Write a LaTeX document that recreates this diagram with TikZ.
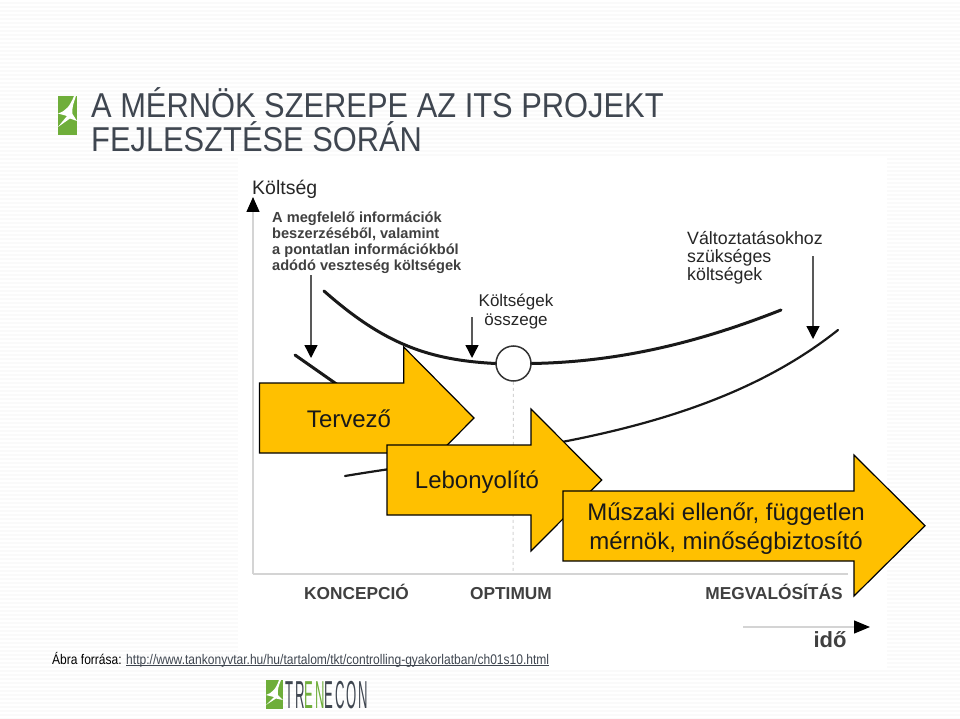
\documentclass[tikz,border=0pt]{standalone}
\usepackage{fontspec}
\setmainfont{Liberation Sans}
\usetikzlibrary{calc}
\usetikzlibrary{arrows.meta}
\definecolor{sarga}{HTML}{FFC000}
\definecolor{zold}{HTML}{6FAE3A}
\definecolor{szurke}{HTML}{3F4650}
\definecolor{tengely}{HTML}{D4D4D4}
\tikzstyle{nyil}   =[draw=black, line width=1.2pt, fill=sarga, line join=miter]
\tikzstyle{gorbe}  =[line width=3pt, line cap=round, black!90]
\tikzstyle{mutato} =[line width=1.4pt, black!65, -{Triangle[length=13pt,width=13pt,black]}]
\tikzstyle{tengelyvonal} =[line width=1.3pt, tengely]
\tikzstyle{felirat}=[align=left, anchor=north west, inner sep=0pt, font=\bfseries\fontsize{14.6}{16}\selectfont, black!75]
\tikzstyle{vekony} =[align=left, anchor=north west, inner sep=0pt, font=\fontsize{17.8}{18}\selectfont, black!85]
\tikzstyle{szakasz} =[anchor=base, inner sep=0pt, font=\bfseries\fontsize{17.3}{18}\selectfont, black!75]
\tikzstyle{cimke}  =[inner sep=0pt, align=center, font=\fontsize{24}{29}\selectfont, black!90]
\begin{document}
\begin{tikzpicture}[x=1pt,y=-1pt]
\useasboundingbox (0,0) rectangle (960,719);

%hatter
\fill[black!2] (0,0) rectangle (960,719);
\foreach \y in {0,4,...,716} {
  \fill[white] (0,\y) rectangle (960,\y+2);
}
\fill[white] (238,157) rectangle (887,668);

%cim
\fill[zold] (58,96) rectangle (77,135.5);
\fill[white] (74,96) .. controls (70,106) and (66,111) .. (58,113.5) -- (67,116) -- (58,127) -- (70,118.5) -- (77,121) -- (72.5,114) .. controls (71.5,108) and (74,102) .. (76,96) -- cycle;
\node (cim) [anchor=north west, inner sep=0pt, align=left, szurke, xscale=0.894, font=\fontsize{34.5}{34}\selectfont] at (91,87) {A MÉRNÖK SZEREPE AZ ITS PROJEKT\\FEJLESZTÉSE SORÁN};

%tengelyek
\coordinate (origo) at (253,574);
\coordinate (fent) at (253,197);
\coordinate (jobb) at (848,574);
\coordinate (optalul) at (513,574);
\coordinate (idoeleje) at (743,627);
\coordinate (idovege) at (870,627);
\draw[tengelyvonal] (jobb) -- (origo);
\draw[-{Triangle[length=15pt,width=13pt,black]}, tengelyvonal] (origo) -- (fent);
\draw[-{Triangle[length=16pt,width=13pt,black]}, tengelyvonal] (idoeleje) -- (idovege);

\node (koltseg) [vekony, font=\fontsize{19.5}{20}\selectfont] at (252,180) {Költség};
\node (veszteseg) [felirat] at (272,212) {A megfelelő információk\\beszerzéséből, valamint\\a pontatlan információkból\\adódó veszteség költségek};
\node (osszeg) [vekony, align=center, anchor=north, font=\fontsize{17}{19}\selectfont] at (516,294) {Költségek\\összege};
\node (valtozas) [vekony] at (687,231) {Változtatásokhoz\\szükséges\\költségek};

%gorbek
\node (kor) [circle, draw=black!80, line width=1.5pt, fill=white, minimum size=35pt, inner sep=0pt] at (513.5,363.5) {};
\draw[dashed, tengelyvonal, line width=1pt] (kor) -- (optalul);
\draw[gorbe] (324,291) .. controls (385,345) and (430,360) .. (kor.west);
\draw[gorbe] (kor.east) .. controls (620,362) and (700,342) .. (781,310);
\draw[gorbe] (295,355) -- (345,390);
\draw[gorbe, line width=2.2pt] (345,476) .. controls (500,450) and (700,440) .. (838,330);
\coordinate (v1) at (311,275);
\coordinate (v2) at (311,358);
\coordinate (k1) at (472,317);
\coordinate (k2) at (472,358);
\coordinate (m1) at (813,256);
\coordinate (m2) at (813,339);
\draw[mutato] (v1) -- (v2);
\draw[mutato] (k1) -- (k2);
\draw[mutato] (m1) -- (m2);

%also feliratok
\node (koncepcio) [szakasz] at (356.5,599) {KONCEPCIÓ};
\node (optimum) [szakasz] at (511,599) {OPTIMUM};
\node (megval) [szakasz] at (774,599) {MEGVALÓSÍTÁS};
\node (ido) [szakasz, font=\bfseries\fontsize{22}{24}\selectfont] at (830,647) {idő};

%nyilak
\draw[nyil] (259.5,383) -- (403.7,383) -- (403.7,347) -- (474,418) -- (403.7,489) -- (403.7,453) -- (259.5,453) -- cycle;
\node (tervezo) [cimke] at (349,419) {Tervező};
\draw[nyil] (387,445) -- (531,445) -- (531,409) -- (601.7,480) -- (531,551) -- (531,515) -- (387,515) -- cycle;
\node (lebony) [cimke] at (477,482) {Lebonyolító};
\draw[nyil] (563,491) -- (854,491) -- (854,455) -- (925,525.7) -- (854,596) -- (854,561) -- (563,561) -- cycle;
\node (mernok) [cimke] at (726,528.5) {Műszaki ellenőr, független\\mérnök, minőségbiztosító};

%forras
\node (forras) [anchor=base west, inner sep=0pt, xscale=0.86, font=\fontsize{14}{16}\selectfont] at (52,664) {Ábra forrása: \textcolor{szurke}{\underline{\smash{http://www.tankonyvtar.hu/hu/tartalom/tkt/controlling-gyakorlatban/ch01s10.html}}}};

%logo
\fill[zold] (266,680) rectangle (283,709);
\fill[white] (279,680) .. controls (276,689) and (272,693) .. (266,695) -- (274,697) -- (266,705) -- (276,698.5) -- (283,700) -- (278,695) .. controls (277,690) and (279,685) .. (281,680) -- cycle;
\node (trenecon) [anchor=west, inner sep=0pt, xscale=0.336, font=\fontsize{39}{39}\selectfont\addfontfeature{LetterSpace=15}] at (285,695) {\textcolor{szurke}{TR}\textcolor{zold}{EN}\textcolor{szurke}{ECON}};
\end{tikzpicture}
\end{document}
